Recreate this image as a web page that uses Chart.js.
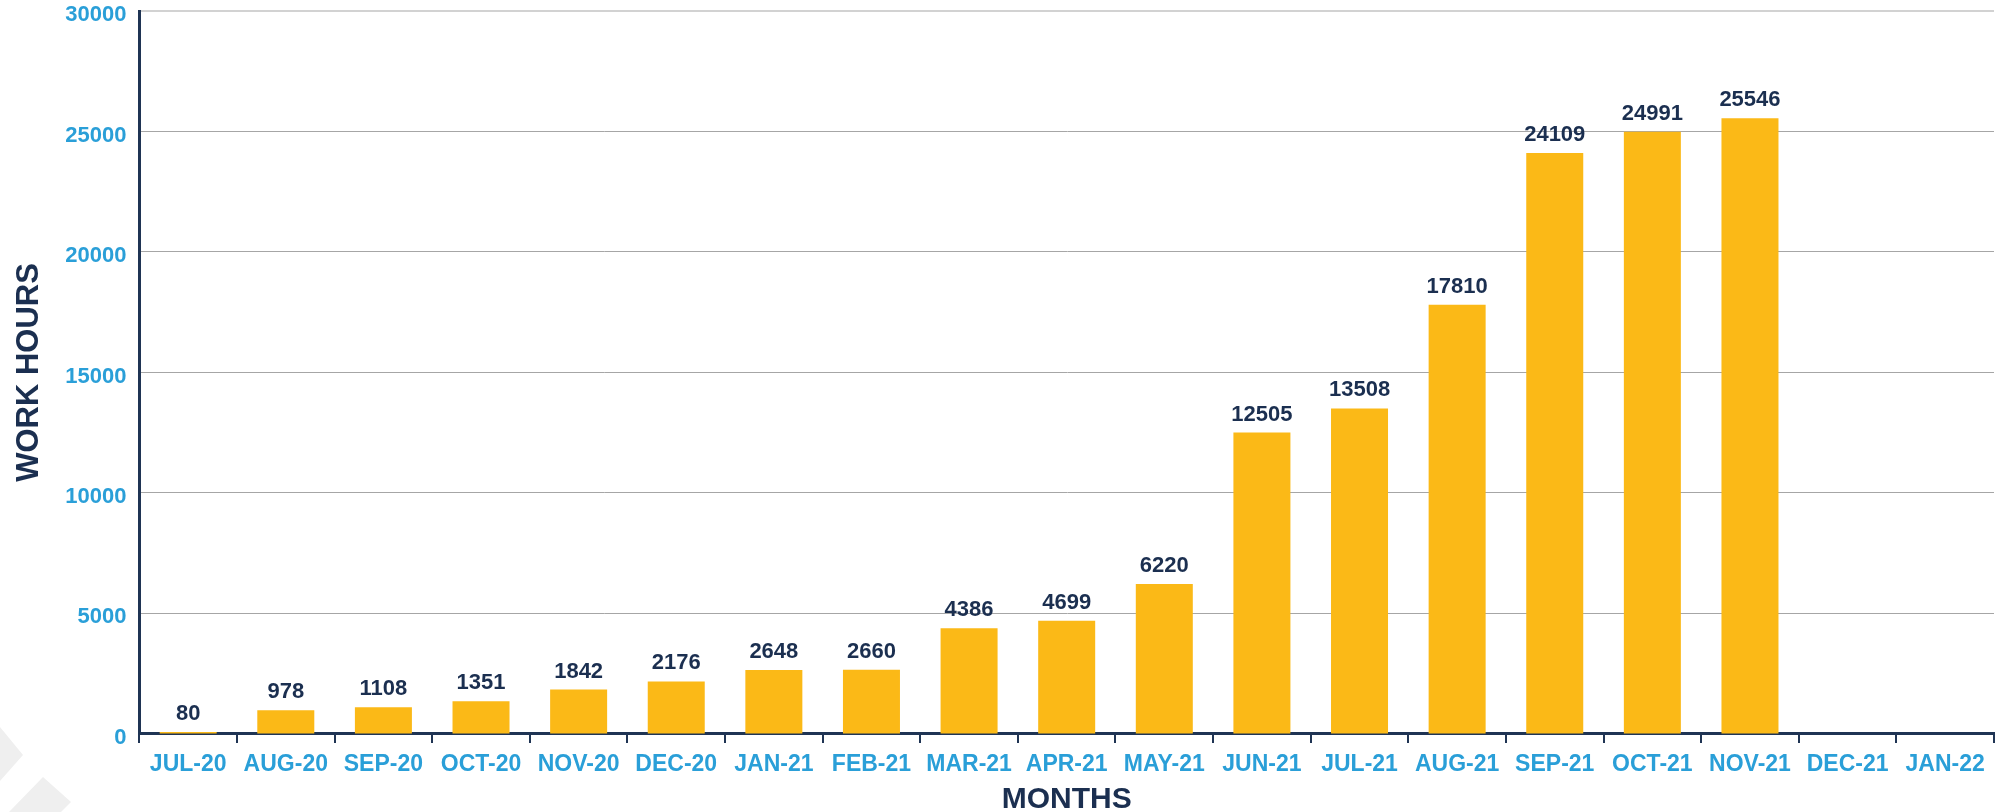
<!DOCTYPE html>
<html>
<head>
<meta charset="utf-8">
<script src="https://cdn.jsdelivr.net/npm/chart.js@4.4.1/dist/chart.umd.min.js"></script>
<style>
  html, body { margin: 0; padding: 0; background: #ffffff; }
  #wrap { width: 2003px; height: 812px; position: relative; }
</style>
</head>
<body>
<div id="wrap"><canvas id="hoursChart"></canvas></div>
<script>
// data
const months = ['JUL-20', 'AUG-20', 'SEP-20', 'OCT-20', 'NOV-20', 'DEC-20', 'JAN-21', 'FEB-21', 'MAR-21',
    'APR-21', 'MAY-21', 'JUN-21', 'JUL-21', 'AUG-21', 'SEP-21', 'OCT-21', 'NOV-21', 'DEC-21', 'JAN-22'];
const workHours = [80, 978, 1108, 1351, 1842, 2176, 2648, 2660, 4386,
    4699, 6220, 12505, 13508, 17810, 24109, 24991, 25546, null, null];
const yMin = 0;
const yMax = 30000;
const yStep = 5000;

const FONT = '"Liberation Sans", Arial, sans-serif';
const NAVY = '#1b2f50';
const BLUE = '#2a9fd8';
const GOLD = '#fbb917';

// light grey chevrons in the bottom-left corner
const cornerDeco = {
    id: 'cornerDeco',
    beforeDraw(chart) {
        const c = chart.ctx;
        c.save();
        c.fillStyle = '#efefef';
        c.beginPath();
        c.moveTo(0, 727); c.lineTo(23, 755); c.lineTo(0, 781);
        c.closePath(); c.fill();
        c.beginPath();
        c.moveTo(9, 812); c.lineTo(43, 777); c.lineTo(71, 802); c.lineTo(61, 812);
        c.closePath(); c.fill();
        c.restore();
    }
};

// value labels above each bar
const valueLabels = {
    id: 'valueLabels',
    afterDatasetsDraw(chart) {
        const c = chart.ctx;
        const meta = chart.getDatasetMeta(0);
        c.save();
        c.font = 'bold 22px ' + FONT;
        c.fillStyle = NAVY;
        c.textAlign = 'center';
        c.textBaseline = 'alphabetic';
        meta.data.forEach((bar, i) => {
            const v = workHours[i];
            if (v === null || v === undefined) return;
            c.fillText(String(v), bar.x, bar.y - 12);
        });
        c.restore();
    }
};

new Chart(document.getElementById('hoursChart'), {
    type: 'bar',
    data: {
        labels: months,
        datasets: [{
            label: 'Work hours',
            data: workHours,
            backgroundColor: GOLD,
            borderWidth: 0,
            categoryPercentage: 1.0,
            barPercentage: 0.584
        }]
    },
    options: {
        responsive: true,
        maintainAspectRatio: false,
        animation: false,
        layout: { padding: { top: 0, right: 9, bottom: 0, left: 0 } },
        plugins: {
            legend: { display: false },
            tooltip: { enabled: false }
        },
        scales: {
            x: {
                grid: {
                    offset: true,
                    drawOnChartArea: false,
                    drawTicks: true,
                    tickLength: 9,
                    color: '#1f3454',
                    lineWidth: 2
                },
                border: { display: true, color: '#1f3454', width: 3 },
                ticks: {
                    color: BLUE,
                    font: { family: FONT, size: 23, weight: 'bold' },
                    padding: 8,
                    maxRotation: 0,
                    autoSkip: false
                },
                title: {
                    display: true,
                    text: 'MONTHS',
                    color: NAVY,
                    font: { family: FONT, size: 30, weight: 'bold', lineHeight: 0.85 },
                    padding: { top: 0, bottom: 0 }
                }
            },
            y: {
                min: yMin,
                max: yMax,
                ticks: {
                    stepSize: yStep,
                    color: BLUE,
                    font: { family: FONT, size: 22, weight: 'bold', lineHeight: 1.0 },
                    padding: 0,
                    labelOffset: 4,
                    callback: v => String(v)
                },
                grid: {
                    drawTicks: true,
                    tickLength: 13,
                    tickColor: 'rgba(0,0,0,0)',
                    color: ctx => (ctx.tick && ctx.tick.value === yMax ? '#d2d2d2' : '#a6a6a6'),
                    lineWidth: ctx => (ctx.tick && ctx.tick.value === yMax ? 2 : 1)
                },
                border: { display: true, color: '#1f3454', width: 3 },
                title: {
                    display: true,
                    text: 'WORK HOURS',
                    color: NAVY,
                    font: { family: FONT, size: 31, weight: 'bold' },
                    padding: { top: 11, bottom: 17 }
                }
            }
        }
    },
    plugins: [cornerDeco, valueLabels]
});
</script>
</body>
</html>
